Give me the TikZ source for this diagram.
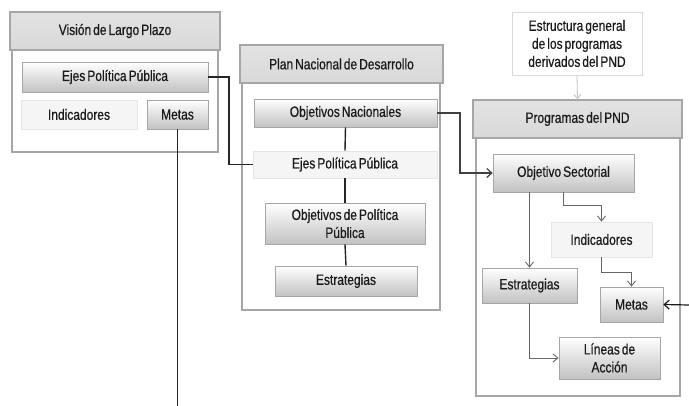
\documentclass[tikz,border=0pt]{standalone}
\usepackage{fontspec}
\setmainfont[FakeStretch=0.8,FakeBold=0.5,WordSpace=0.6]{Liberation Sans}
\usetikzlibrary{arrows.meta,calc}
\definecolor{bordergray}{HTML}{A6A6A6}
\definecolor{headgray}{HTML}{D9D9D9}
\definecolor{txt}{HTML}{1A1A1A}
\begin{document}
\begin{tikzpicture}[x=1pt,y=-1pt,
  every node/.style={font=\fontsize{15}{18}\selectfont, text=txt, align=center, inner sep=0pt},
  outer/.style={draw=bordergray, line width=1.8pt, fill=white},
  head/.style={draw=bordergray, line width=1.8pt, top color=headgray!75, bottom color=headgray},
  box/.style={draw=bordergray, line width=0.7pt, top color=white, bottom color=black!24},
  lightbox/.style={draw=black!10, line width=0.7pt, fill=black!4},
  plainbox/.style={draw=black!15, line width=0.8pt, fill=white},
  conn/.style={line width=1.4pt, draw=black!85},
  garrow/.style={line width=0.9pt, draw=black!60, -{Straight Barb[length=5pt,width=8pt]}},
  darrow/.style={line width=1.2pt, draw=black!75, -{Straight Barb[length=5pt,width=9pt]}}
]
\useasboundingbox (0,0) rectangle (689,406);
% left group
\node[outer, minimum width=206pt, minimum height=140pt] (leftbody) at (115,82) {};
\node[head, minimum width=210pt, minimum height=38pt] (lefthead) at (115,31) {Visión de Largo Plazo};
\node[box, minimum width=186pt, minimum height=30pt] (ejesL) at (115,77) {Ejes Política Pública};
\node[lightbox, minimum width=116pt, minimum height=29pt] (indL) at (79,114.5) {Indicadores};
\node[box, minimum width=61pt, minimum height=29pt] (metasL) at (177.5,114.5) {Metas};
% PND group
\node[outer, minimum width=198pt, minimum height=265pt] (pndbody) at (341,177.5) {};
\node[head, minimum width=203pt, minimum height=38pt] (pndhead) at (341.5,64) {Plan Nacional de Desarrollo};
\node[box, minimum width=183pt, minimum height=28pt] (objN) at (345.5,113) {Objetivos Nacionales};
\node[lightbox, minimum width=184pt, minimum height=27pt] (ejesP) at (345,164.5) {Ejes Política Pública};
\node[box, minimum width=160pt, minimum height=41pt] (objPP) at (345,223.5) {Objetivos de Política\\Pública};
\node[box, minimum width=142pt, minimum height=30pt] (estP) at (346,281) {Estrategias};
% Programas group
\node[plainbox, minimum width=130pt, minimum height=63pt] (estr) at (577,43.5) {Estructura general\\de los programas\\derivados del PND};
\node[outer, minimum width=204pt, minimum height=296pt] (progbody) at (578,248) {};
\node[head, minimum width=209pt, minimum height=38pt] (proghead) at (577.5,119) {Programas del PND};
\node[box, minimum width=141pt, minimum height=38pt] (objS) at (563.5,173) {Objetivo Sectorial};
\node[lightbox, minimum width=101pt, minimum height=35pt] (indR) at (601.5,239.5) {Indicadores};
\node[box, minimum width=95pt, minimum height=35pt] (estR) at (529.5,285.5) {Estrategias};
\node[box, minimum width=63pt, minimum height=35pt] (metasR) at (631.5,304.5) {Metas};
\node[box, minimum width=101pt, minimum height=42pt] (lineas) at (609.5,358) {Líneas de\\Acción};
% connectors
\coordinate (j1) at (229,77);
\coordinate (bottomEnd) at (177.5,406);
\coordinate (j2) at (460,113);
\coordinate (rightEnd) at (689,305);
\draw[conn] (ejesL.east) -- (j1) |- (ejesP.west);
\draw[conn] (metasL.south) -- (bottomEnd);
\draw[conn] (objN.south) -- (ejesP.north);
\draw[conn] (ejesP.south) -- (objPP.north);
\draw[conn] (objPP.south) -- (estP.north);
\draw[darrow] (objN.east) -- (j2) |- (objS.west);
\draw[line width=0.8pt, draw=black!25, -{Straight Barb[length=4pt,width=7pt]}] (estr.south) -- (proghead.north);
\draw[garrow] (objS.south -| estR.north) -- (estR.north);
\draw[garrow] (objS.south) -- ++(0,13) -| (indR.north);
\draw[garrow] (indR.south) -- ++(0,15) -| (metasR.north);
\draw[garrow] (estR.south) |- (lineas.west);
\draw[darrow, draw=black!90] (rightEnd) -- (metasR.east);
\end{tikzpicture}
\end{document}
